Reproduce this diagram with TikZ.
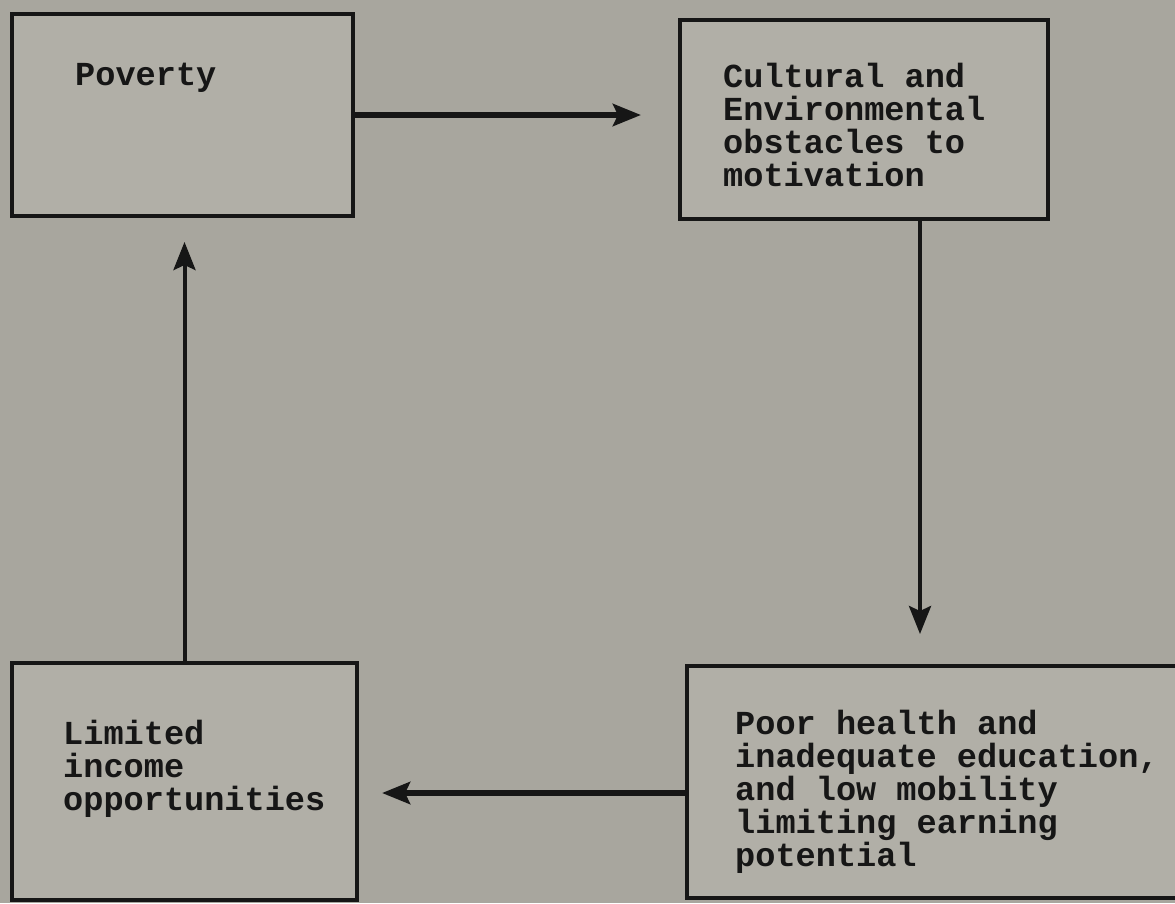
\documentclass[tikz,border=0pt]{standalone}
\usepackage{fontspec}
\newfontfamily\typewriter{Liberation Mono}
\usetikzlibrary{positioning, arrows.meta}
\definecolor{paper}{RGB}{168,166,158}
\definecolor{boxpaper}{RGB}{177,175,167}
\definecolor{ink}{RGB}{22,22,22}
\tikzstyle{stage} = [rectangle, draw=ink, fill=boxpaper, line width=4.5pt, outer sep=0pt, inner sep=0pt, anchor=north west]
\tikzstyle{stagetext} = [inner sep=0pt, align=left, text=ink, font=\typewriter\bfseries\fontsize{33.6pt}{33pt}\selectfont]
\tikzstyle{arrow} = [draw=ink, line width=4pt, -{Stealth[length=28pt, width=22pt, inset=5pt]}]

\begin{document}
\begin{tikzpicture}[x=1pt, y=-1pt]
        \fill [paper] (0,0) rectangle (1175,903);
        \useasboundingbox (0,0) rectangle (1175,903);

        \node (pov) [stage, minimum width=341pt, minimum height=202pt] at (12,14) {};
        \node (cult) [stage, minimum width=368pt, minimum height=199pt] at (680,20) {};
        \node (health) [stage, minimum width=528pt, minimum height=232pt] at (687,666) {};
        \node (lim) [stage, minimum width=345pt, minimum height=237pt] at (12,663) {};

        \node (povtext) [stagetext, below right=49pt and 63pt of pov.north west] {Poverty};
        \node (culttext) [stagetext, below right=43pt and 43pt of cult.north west] {Cultural and\\Environmental\\obstacles to\\motivation};
        \node (healthtext) [stagetext, below right=44pt and 48pt of health.north west] {Poor health and\\inadequate education,\\and low mobility\\limiting earning\\potential};
        \node (limtext) [stagetext, below right=57pt and 51pt of lim.north west] {Limited\\income\\opportunities};

        \draw [arrow, line width=6.5pt, shorten >=39pt] (pov.east) -- (pov.east -| cult.west);
        \draw [arrow, shorten >=32pt] ([xshift=56pt]cult.south) -- ([xshift=56pt]cult.south |- health.north);
        \draw [arrow, line width=6.5pt, shorten >=25pt] ([yshift=-11pt]health.west) -- ([yshift=-11pt]health.west -| lim.east);
        \draw [arrow, shorten >=26pt] (lim.north) -- (lim.north |- pov.south);
\end{tikzpicture}
\end{document}
